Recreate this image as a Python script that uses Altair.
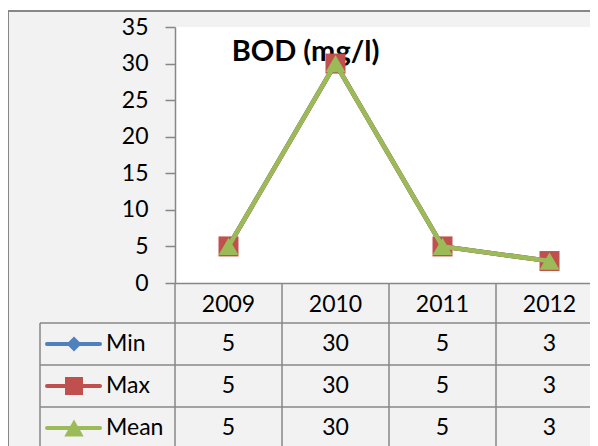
import altair as alt
import pandas as pd

# ---- data ----
years = ["2009", "2010", "2011", "2012"]
series_names = ["Min", "Max", "Mean"]
min_vals = [5, 30, 5, 3]
max_vals = [5, 30, 5, 3]
mean_vals = [5, 30, 5, 3]
title_text = "BOD (mg/l)"
y_ticks = [0, 5, 10, 15, 20, 25, 30, 35]

# ---- styling ----
colors = {"Min": "#4f81bd", "Max": "#c0504d", "Mean": "#9bbb59"}
shapes = {"Min": "diamond", "Max": "square", "Mean": "triangle-up"}
plot_sizes = {"Min": 225, "Max": 400, "Mean": 400}
legend_sizes = {"Min": 225, "Max": 324, "Mean": 380}
FONT = "Lato"
GRAY = "#878787"
BG = "#f2f2f2"

values = {"Min": min_vals, "Max": max_vals, "Mean": mean_vals}
long_rows = []
for s in series_names:
    for yr, v in zip(years, values[s]):
        long_rows.append({"year": yr, "series": s, "value": v})
df = pd.DataFrame(long_rows)
years_df = pd.DataFrame({"year": years})
series_df = pd.DataFrame({"series": series_names})
one = pd.DataFrame({"k": [0]})

x_scale = alt.Scale(type="band", domain=years, range=[0, 428], paddingInner=0, paddingOuter=0)
row_scale = alt.Scale(type="band", domain=series_names, range=[296, 422], paddingInner=0, paddingOuter=0)
y_scale = alt.Scale(domain=[0, 35], nice=False, zero=True)

x_axis = alt.Axis(title=None, ticks=False, tickSize=0, labelPadding=21, labelBaseline="middle",
                  labelFont=FONT, labelFontSize=23, labelColor="black", labelAngle=0,
                  domainColor=GRAY, domainWidth=1.5, grid=False, zindex=2)
y_axis = alt.Axis(title=None, values=y_ticks, tickSize=10, tickColor=GRAY, tickWidth=1.5,
                  labelPadding=17, labelFont=FONT, labelFontSize=23, labelColor="black",
                  domainColor=GRAY, domainWidth=1.5, grid=False, zindex=2)

def X(**kw):
    return alt.X("year:N", scale=x_scale, axis=x_axis, sort=years, **kw)

def R(**kw):
    return alt.Y("series:N", scale=row_scale, axis=None, **kw)

def V():
    return alt.Y("value:Q", scale=y_scale, axis=y_axis)

# ---- decoration (frame, plot background) ----
frame_bg = alt.Chart(one).mark_rect(color=BG).encode(
    x=alt.value(-167), x2=alt.value(440), y=alt.value(-16), y2=alt.value(450))
plot_bg = alt.Chart(one).mark_rect(color="white").encode(
    x=alt.value(0), x2=alt.value(440), y=alt.value(0), y2=alt.value(256))
frame_top = alt.Chart(one).mark_rule(color=GRAY, strokeWidth=2).encode(
    x=alt.value(-167), x2=alt.value(440), y=alt.value(-16))
frame_left = alt.Chart(one).mark_rule(color=GRAY, strokeWidth=2).encode(
    x=alt.value(-167), y=alt.value(-16), y2=alt.value(450))
table_left = alt.Chart(one).mark_rule(color=GRAY, strokeWidth=1.5).encode(
    x=alt.value(-135), y=alt.value(296), y2=alt.value(450))

# vertical table lines at band boundaries
v_rules = alt.Chart(years_df).mark_rule(color=GRAY, strokeWidth=1.5).encode(
    x=X(bandPosition=0), y=alt.value(256), y2=alt.value(450))

# horizontal table lines at row tops
h_rules = alt.Chart(series_df).mark_rule(color=GRAY, strokeWidth=1.5).encode(
    y=R(bandPosition=0), x=alt.value(-135), x2=alt.value(440))

# table values
cells = alt.Chart(df).mark_text(font=FONT, fontSize=23, color="black", baseline="middle", align="center").encode(
    x=X(bandPosition=0.5), y=R(bandPosition=0.5), text="value:Q")

# legend keys in the table
leg_layers = []
for s in series_names:
    sdf = pd.DataFrame({"series": [s]})
    leg_layers.append(alt.Chart(sdf).mark_rule(color=colors[s], strokeWidth=4, strokeCap="round").encode(
        y=R(bandPosition=0.5), x=alt.value(-128), x2=alt.value(-75)))
    leg_layers.append(alt.Chart(sdf).mark_point(shape=shapes[s], filled=True, opacity=1,
                                                color=colors[s], size=legend_sizes[s]).encode(
        y=R(bandPosition=0.5), x=alt.value(-101)))
labels = alt.Chart(series_df).mark_text(font=FONT, fontSize=23, color="black", align="left",
                                        baseline="middle").encode(
    y=R(bandPosition=0.5), x=alt.value(-69), text="series:N")

title = alt.Chart(pd.DataFrame({"t": [title_text]})).mark_text(
    font=FONT, fontSize=29, fontWeight="bold", color="black", align="center", baseline="alphabetic").encode(
    x=alt.value(130.5), y=alt.value(34), text="t:N")

# ---- series lines and markers ----
plot_layers = []
for s in series_names:
    sdf = df[df["series"] == s]
    plot_layers.append(alt.Chart(sdf).mark_line(color=colors[s], strokeWidth=4.5).encode(
        x=X(bandPosition=0.5), y=V()))
    plot_layers.append(alt.Chart(sdf).mark_point(shape=shapes[s], filled=True, opacity=1,
                                                 color=colors[s], size=plot_sizes[s]).encode(
        x=X(bandPosition=0.5), y=V()))
plot_group = alt.layer(*plot_layers)

table_group = alt.layer(h_rules, cells, labels, *leg_layers)

chart = alt.layer(
    frame_bg, plot_bg, frame_top, frame_left, table_left, v_rules, table_group, title, plot_group
).resolve_scale(y="independent").properties(
    width=415, height=256,
    padding={"left": 167, "top": 19, "right": 0, "bottom": 163},
    autosize=alt.AutoSizeParams(type="none"),
).configure(background="white").configure_view(stroke=None)

chart.save("out.html", embed_options={"renderer": "svg", "actions": False})
